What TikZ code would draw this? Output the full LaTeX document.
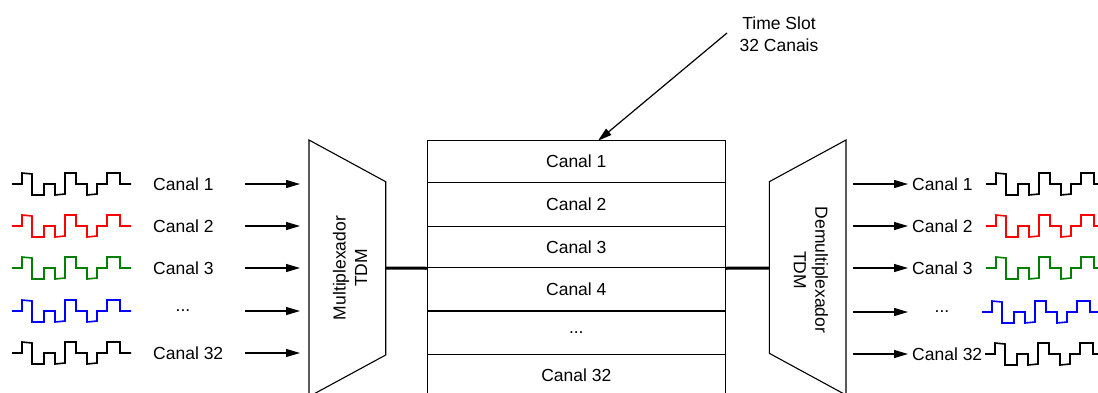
\documentclass[tikz,border=0pt]{standalone}
\usepackage{fontspec}
\setmainfont{Liberation Sans}
\usetikzlibrary{arrows.meta}
\definecolor{wred}{RGB}{255,0,0}
\definecolor{wgreen}{RGB}{0,128,0}
\definecolor{wblue}{RGB}{0,0,255}
\begin{document}
\begin{tikzpicture}[x=1pt,y=-1pt,
  font=\fontsize{17.5}{21.5}\selectfont,
  arr/.style={-{Triangle[length=14pt,width=8pt]}, line width=1.2pt},
  cell/.style={draw, line width=1.1pt, minimum width=298pt, inner sep=0pt},
  wavepath/.style={line width=1.6pt},
  lbl/.style={anchor=west, inner sep=0pt},
  thickline/.style={line width=3pt},
  trap/.style={draw, line width=1.1pt},
  wave/.pic={\draw[wavepath] (0,0) -- (10,0) -- (10,-11) -- (20,-10) -- (20,11) -- (32,11) -- (32,0) -- (43,0) -- (43,11) -- (53,10) -- (53,-11) -- (64,-11) -- (64,0) -- (75,0) -- (75,11) -- (85,10) -- (85,0) -- (95,0) -- (95,-11) -- (108,-11) -- (108,0) -- (119,0);}
]
\useasboundingbox (0,0) rectangle (1098,392);
\clip (0,0) rectangle (1098,392);

% ---------- left waveforms ----------
\pic[color=black]  at (12,184) {wave};
\pic[color=wred]   at (12,226) {wave};
\pic[color=wgreen] at (12,268) {wave};
\pic[color=wblue]  at (12,311) {wave};
\pic[color=black]  at (12,353) {wave};

% ---------- left labels ----------
\node[lbl] (l1) at (153,184) {Canal 1};
\node[lbl] (l2) at (153,226) {Canal 2};
\node[lbl] (l3) at (153,268) {Canal 3};
\node[inner sep=0pt] (l4) at (183,311) {...};
\node[lbl] (l5) at (153,353) {Canal 32};

% ---------- left arrows ----------
\coordinate (la1) at (245,184); \coordinate (lb1) at (300,184);
\coordinate (la2) at (245,226); \coordinate (lb2) at (300,226);
\coordinate (la3) at (245,268); \coordinate (lb3) at (300,268);
\coordinate (la4) at (245,311); \coordinate (lb4) at (300,311);
\coordinate (la5) at (245,353); \coordinate (lb5) at (300,353);
\foreach \i in {1,...,5} {\draw[arr] (la\i) -- (lb\i);}

% ---------- multiplexer ----------
\coordinate (m1) at (309,140);
\coordinate (m2) at (385.7,181.7);
\coordinate (m3) at (385.7,355);
\coordinate (m4) at (309,396.6);
\draw[trap] (m1) -- (m2) -- (m3) -- (m4) -- cycle;
\node[rotate=90, align=center, inner sep=0pt] (mux) at (350,268) {Multiplexador\\TDM};
\coordinate (muxR) at (385.7,268);

% ---------- time slot frame ----------
\node[cell, minimum height=41.6pt] (c1) at (576.3,161.5)  {Canal 1};
\node[cell, minimum height=44.4pt] (c2) at (576.3,204.5)  {Canal 2};
\node[cell, minimum height=41pt]   (c3) at (576.3,247.2)  {\raisebox{-3pt}{Canal 3}};
\node[cell, minimum height=43.3pt] (c4) at (576.3,289.35) {Canal 4};
\node[cell, minimum height=43.3pt] (c5) at (576.3,332.65) {...};
\node[cell, minimum height=41.7pt] (c6) at (576.3,375.15) {Canal 32};

\draw[thickline] (muxR) -- (c3.south west);

% ---------- demultiplexer ----------
\coordinate (d1) at (769.3,181.7);
\coordinate (d2) at (846,140);
\coordinate (d3) at (846,395);
\coordinate (d4) at (769.3,353.3);
\draw[trap] (d1) -- (d2) -- (d3) -- (d4) -- cycle;
\node[rotate=-90, align=center, inner sep=0pt] (demux) at (811,270) {Demultiplexador\\TDM};
\coordinate (demuxL) at (769.3,268);
\draw[thickline] (c3.south east) -- (demuxL);

% ---------- time slot label ----------
\node[align=center, inner sep=0pt] (ts) at (779,34) {Time Slot\\32 Canais};
\coordinate (tsA) at (727,33);
\coordinate (tsB) at (598,140.7);
\draw[arr] (tsA) -- (tsB);

% ---------- right arrows ----------
\coordinate (ra1) at (853,184); \coordinate (rb1) at (908,184);
\coordinate (ra2) at (853,226); \coordinate (rb2) at (908,226);
\coordinate (ra3) at (853,268); \coordinate (rb3) at (908,268);
\coordinate (ra4) at (853,312); \coordinate (rb4) at (908,312);
\coordinate (ra5) at (853,354); \coordinate (rb5) at (908,354);
\foreach \i in {1,...,5} {\draw[arr] (ra\i) -- (rb\i);}

% ---------- right labels ----------
\node[lbl] (r1) at (912,184) {Canal 1};
\node[lbl] (r2) at (912,226) {Canal 2};
\node[lbl] (r3) at (912,268) {Canal 3};
\node[inner sep=0pt] (r4) at (942,312) {...};
\node[lbl] (r5) at (912,354) {Canal 32};

% ---------- right waveforms ----------
\pic[color=black]  at (986,184) {wave};
\pic[color=wred]   at (986,226) {wave};
\pic[color=wgreen] at (986,268) {wave};
\pic[color=wblue]  at (982,312) {wave};
\pic[color=black]  at (985,354) {wave};
\end{tikzpicture}
\end{document}
